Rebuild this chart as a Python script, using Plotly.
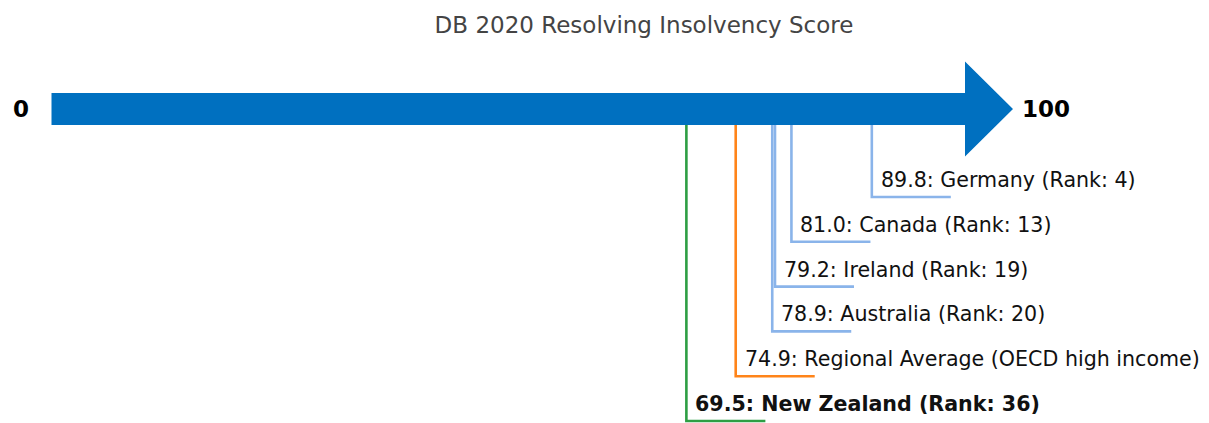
import plotly.graph_objects as go

# ---- data ----
names = ["Germany", "Canada", "Ireland", "Australia", "Regional Average (OECD high income)", "New Zealand"]
scores = [89.8, 81.0, 79.2, 78.9, 74.9, 69.5]
ranks = [4, 13, 19, 20, None, 36]
kinds = ["peer", "peer", "peer", "peer", "region", "focus"]
title_text = "DB 2020 Resolving Insolvency Score"
axis_min, axis_max = 0, 100

# ---- style ----
W, H = 1209, 423
PAGE_OFF = 8  # default body margin of the html page
PX_PER_UNIT = 9.135
X0_PX = 51.5
ARROW_COLOR = "#0070c0"
colors = {"peer": "#8ab4ea", "region": "#ff8419", "focus": "#2e9e44"}
FONT = "DejaVu Sans"

x_lo = -(X0_PX - PAGE_OFF) / PX_PER_UNIT
x_hi = x_lo + W / PX_PER_UNIT

arrow_y = 109
arrow_half = 16
head_half = 47.5
head_len = 48 / PX_PER_UNIT
first_level = 197
level_gap = 44.8
tail_len = 79 / PX_PER_UNIT

fig = go.Figure()

# arrow shape
top, bot = arrow_y - arrow_half, arrow_y + arrow_half
path = (f"M {axis_min},{top} L {axis_max},{top} L {axis_max},{arrow_y - head_half} "
        f"L {axis_max + head_len},{arrow_y} L {axis_max},{arrow_y + head_half} "
        f"L {axis_max},{bot} L {axis_min},{bot} Z")
fig.add_shape(type="path", path=path, xref="x", yref="y",
              fillcolor=ARROW_COLOR, line=dict(width=0), layer="below")

annotations = []
for i, (n, s, r, k) in enumerate(zip(names, scores, ranks, kinds)):
    ly = first_level + i * level_gap
    fig.add_trace(go.Scatter(
        x=[s, s, s + tail_len], y=[bot, ly, ly], mode="lines",
        line=dict(color=colors[k], width=2.6), hoverinfo="skip", showlegend=False))
    label = f"{s:.1f}: {n}" + (f" (Rank: {r})" if r is not None else "")
    if k == "focus":
        label = f"<b>{label}</b>"
    annotations.append(dict(x=s, y=ly - 17, xref="x", yref="y", text=label,
                            showarrow=False, xanchor="left", yanchor="middle",
                            xshift=7, font=dict(family=FONT, size=20.6, color="#111")))

annotations.append(dict(x=axis_min, y=arrow_y, xref="x", yref="y", text=f"<b>{axis_min}</b>",
                        showarrow=False, xanchor="right", yanchor="middle", xshift=-21,
                        font=dict(family=FONT, size=23, color="#000")))
annotations.append(dict(x=axis_max + head_len, y=arrow_y, xref="x", yref="y", text=f"<b>{axis_max}</b>",
                        showarrow=False, xanchor="left", yanchor="middle", xshift=7,
                        font=dict(family=FONT, size=23, color="#000")))

fig.update_layout(
    width=W, height=H,
    margin=dict(l=0, r=0, t=0, b=0),
    paper_bgcolor="white", plot_bgcolor="white",
    title=dict(text=title_text, x=(644 - PAGE_OFF) / W, xanchor="center",
               y=1 - (25 - PAGE_OFF) / H, yanchor="middle",
               yref="container", font=dict(family=FONT, size=23, color="#444")),
    xaxis=dict(range=[x_lo, x_hi], visible=False, fixedrange=True),
    yaxis=dict(range=[H + PAGE_OFF, PAGE_OFF], visible=False, fixedrange=True),
    annotations=annotations,
    showlegend=False,
)

fig.write_html("out.html")
